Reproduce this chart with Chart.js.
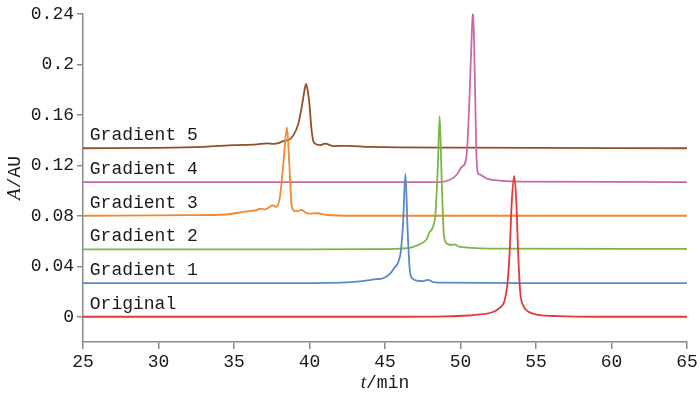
<!DOCTYPE html>
<html>
<head>
<meta charset="utf-8">
<script src="https://cdn.jsdelivr.net/npm/chart.js@4.4.1/dist/chart.umd.min.js"></script>
<style>
  html, body { margin: 0; padding: 0; background: #fff; }
  #wrap { width: 700px; height: 396px; }
</style>
</head>
<body>
<div id="wrap"><canvas id="graf" width="700" height="396"></canvas></div>
<script>
// popisky křivek a osy
const nazvy = ["Original", "Gradient 1", "Gradient 2", "Gradient 3", "Gradient 4", "Gradient 5"];
const yTicky = [0, 0.04, 0.08, 0.12, 0.16, 0.2, 0.24];
const posuny = [0, 0.0267, 0.0533, 0.08, 0.1067, 0.1335]; // základní linie jednotlivých křivek

// Original
const origT = [25, 46, 49, 50.5, 51.5, 52.2, 52.6, 52.9, 53.1, 53.25, 53.4, 53.56, 53.7, 53.82, 53.95, 54.15, 54.5, 55.2, 56.5, 59, 65];
const origA = [0, 0, 0.0003, 0.001, 0.002, 0.004, 0.007, 0.012, 0.025, 0.05, 0.092, 0.1115, 0.09, 0.05, 0.02, 0.009, 0.004, 0.0015, 0.0005, 0, 0];

// Gradient 1
const g1T = [25, 40, 42.5, 43.5, 44.0, 44.4, 44.8, 45.1, 45.4, 45.6, 45.85, 46.05, 46.2, 46.35, 46.5, 46.65, 46.85, 47.1, 47.5, 47.85, 48.2, 49, 55, 65];
const g1A = [0.0267, 0.0267, 0.0272, 0.0282, 0.029, 0.0298, 0.0302, 0.0318, 0.035, 0.0385, 0.0425, 0.052, 0.075, 0.1133, 0.068, 0.036, 0.030, 0.0287, 0.0283, 0.0292, 0.0275, 0.027, 0.0267, 0.0267];

// Gradient 2
const g2T = [25, 40, 44, 46, 46.7, 47.3, 47.75, 47.95, 48.15, 48.35, 48.5, 48.62, 48.75, 48.88, 49.0, 49.2, 49.45, 49.65, 49.9, 50.5, 52, 65];
const g2A = [0.0533, 0.0533, 0.0535, 0.054, 0.0548, 0.0574, 0.0613, 0.067, 0.0705, 0.083, 0.12, 0.159, 0.11, 0.068, 0.0595, 0.0574, 0.057, 0.0572, 0.0556, 0.0548, 0.054, 0.0537];

// Gradient 3
const g3T = [25, 32, 34.5, 35.6, 36.1, 36.5, 36.75, 37.05, 37.35, 37.55, 37.8, 38.05, 38.27, 38.51, 38.66, 38.82, 39.04, 39.25, 39.48, 39.75, 40.03, 40.48, 41.14, 43, 65];
const g3A = [0.08, 0.0805, 0.081, 0.0831, 0.0838, 0.0845, 0.0857, 0.085, 0.087, 0.0883, 0.087, 0.0956, 0.1216, 0.150, 0.1216, 0.0878, 0.0836, 0.0838, 0.0846, 0.0825, 0.0817, 0.082, 0.0806, 0.08, 0.08];

// Gradient 4
const g4T = [25, 44, 47, 48.6, 49.3, 49.75, 50.1, 50.3, 50.45, 50.6, 50.72, 50.83, 50.94, 51.05, 51.15, 51.3, 51.5, 51.8, 52.6, 54, 65];
const g4A = [0.1067, 0.1067, 0.1067, 0.1067, 0.1085, 0.1125, 0.119, 0.1215, 0.135, 0.175, 0.215, 0.2432, 0.195, 0.13, 0.114, 0.1125, 0.1112, 0.1092, 0.1078, 0.107, 0.1067];

// Gradient 5
const g5T = [25, 30, 33, 35, 36.5, 37.2, 37.6, 38.0, 38.3, 38.6, 38.93, 39.26, 39.48, 39.65, 39.77, 39.9, 40.0, 40.14, 40.3, 40.7, 41.03, 41.6, 42.5, 44, 50, 65];
const g5A = [0.1335, 0.1338, 0.1346, 0.1359, 0.1366, 0.1374, 0.137, 0.1378, 0.1393, 0.140, 0.1437, 0.1528, 0.1658, 0.178, 0.1845, 0.178, 0.168, 0.1476, 0.1377, 0.136, 0.1372, 0.1352, 0.1354, 0.1345, 0.134, 0.1335];

const barvy = ["#e2393a", "#5a8ac6", "#7ab648", "#f4872f", "#c86aa8", "#93502a"];
const FONT = "'Liberation Mono', 'DejaVu Sans Mono', monospace";

const serie = [[origT, origA], [g1T, g1A], [g2T, g2A], [g3T, g3A], [g4T, g4A], [g5T, g5A]];
const datasets = serie.map(([t, a], i) => ({
  label: nazvy[i],
  data: t.map((x, j) => ({ x: x, y: a[j] })),
  borderColor: barvy[i],
  borderWidth: 1.8,
  pointRadius: 0,
  cubicInterpolationMode: 'monotone',
  fill: false
}));

// popisky nad základními liniemi a názvy os
const textPlugin = {
  id: 'texty',
  afterDatasetsDraw(chart) {
    const { ctx, scales: { x, y }, chartArea } = chart;
    ctx.save();
    ctx.font = "18px " + FONT;
    ctx.fillStyle = "#1a1a1a";
    ctx.textBaseline = "alphabetic";
    ctx.textAlign = "left";
    nazvy.forEach((n, i) => {
      ctx.fillText(n, x.getPixelForValue(25.45), y.getPixelForValue(posuny[i]) - 8);
    });

    // názvy os s kurzívou u veličiny
    const kresli = (casti, cx, cy) => {
      let sirka = 0;
      casti.forEach(c => { ctx.font = c[1]; sirka += ctx.measureText(c[0]).width; });
      let px = cx - sirka / 2;
      casti.forEach(c => {
        ctx.font = c[1];
        ctx.fillText(c[0], px, cy);
        px += ctx.measureText(c[0]).width;
      });
    };
    ctx.textBaseline = "middle";
    kresli([["t", "italic 19px 'Liberation Serif', serif"], ["/min", "18px " + FONT]],
      (chartArea.left + chartArea.right) / 2, 383);

    ctx.translate(15, (chartArea.top + chartArea.bottom) / 2);
    ctx.rotate(-Math.PI / 2);
    kresli([["A", "italic 19px 'Liberation Serif', serif"], ["/AU", "18px " + FONT]], 0, 0);
    ctx.restore();
  }
};

new Chart(document.getElementById("graf"), {
  type: 'line',
  data: { datasets: datasets },
  options: {
    responsive: false,
    animation: false,
    layout: { padding: { top: 8, right: 13, left: 0, bottom: 0 } },
    plugins: { legend: { display: false }, tooltip: { enabled: false } },
    scales: {
      x: {
        type: 'linear',
        min: 25,
        max: 65,
        afterFit: s => { s.height = 54; },
        ticks: { stepSize: 5, color: "#1a1a1a", font: { family: FONT, size: 18 }, padding: 2, maxRotation: 0 },
        grid: { drawOnChartArea: false, drawTicks: true, tickLength: 7, color: "#8a8a8a", lineWidth: 1.5 },
        border: { display: true, color: "#8a8a8a", width: 1.5 }
      },
      y: {
        min: -0.02,
        max: 0.24,
        afterFit: s => { s.width = 83; },
        afterBuildTicks: s => { s.ticks = yTicky.map(v => ({ value: v })); },
        ticks: {
          color: "#1a1a1a",
          font: { family: FONT, size: 18 },
          padding: 3,
          callback: v => String(Number(v.toFixed(2)))
        },
        grid: { drawOnChartArea: false, drawTicks: true, tickLength: 6, color: "#8a8a8a", lineWidth: 1.5 },
        border: { display: true, color: "#8a8a8a", width: 1.5 }
      }
    }
  },
  plugins: [textPlugin]
});
</script>
</body>
</html>
